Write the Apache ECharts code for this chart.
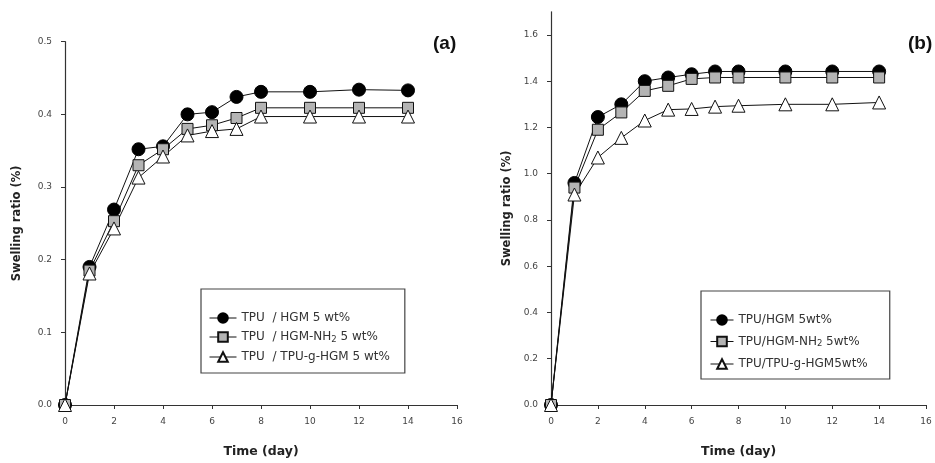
<!DOCTYPE html>
<html>
<head>
<meta charset="utf-8">
<script src="https://cdn.jsdelivr.net/npm/echarts@6/dist/echarts.min.js"></script>
<style>html,body{margin:0;padding:0;background:#fff}#c{width:935px;height:463px}</style>
</head>
<body>
<div id="c"></div>
<script>
const days = [0, 1, 2, 3, 4, 5, 6, 7, 8, 10, 12, 14];
// Panel (a)
const aHGM   = [0, 0.190, 0.269, 0.352, 0.356, 0.400, 0.403, 0.424, 0.431, 0.431, 0.434, 0.433];
const aNH2   = [0, 0.185, 0.253, 0.330, 0.352, 0.380, 0.385, 0.395, 0.409, 0.409, 0.409, 0.409];
const aTPUg  = [0, 0.181, 0.243, 0.313, 0.342, 0.371, 0.377, 0.380, 0.397, 0.397, 0.397, 0.397];
// Panel (b)
const bHGM   = [0, 0.96, 1.245, 1.30, 1.40, 1.416, 1.430, 1.442, 1.442, 1.442, 1.442, 1.442];
const bNH2   = [0, 0.94, 1.19, 1.265, 1.358, 1.38, 1.41, 1.416, 1.416, 1.416, 1.416, 1.416];
const bTPUg  = [0, 0.91, 1.07, 1.155, 1.23, 1.277, 1.28, 1.29, 1.294, 1.30, 1.30, 1.308];
const aNames = ['TPU  / HGM 5 wt%', 'TPU  / HGM-NH2 5 wt%', 'TPU  / TPU-g-HGM 5 wt%'];
const bNames = ['TPU/HGM 5wt%', 'TPU/HGM-NH2 5wt%', 'TPU/TPU-g-HGM5wt%'];

const font = 'DejaVu Sans, Liberation Sans, sans-serif';
const axisCol = '#333';
const pairs = arr => days.map((d, i) => [d, arr[i]]);

function mk(name, arr, kind, xi) {
  const st = {
    circle: { symbol: 'circle', size: 13, color: '#000', border: '#000' },
    square: { symbol: 'rect', size: 11, color: '#b4b4b4', border: '#111' },
    tri:    { symbol: 'triangle', size: 13, color: '#fff', border: '#111' }
  }[kind];
  return {
    type: 'line', name, xAxisIndex: xi, yAxisIndex: xi, data: pairs(arr),
    symbol: st.symbol, symbolSize: st.size,
    lineStyle: { color: '#111', width: 1 },
    itemStyle: { color: st.color, borderColor: st.border, borderWidth: 1 },
    emphasis: { disabled: true }, animation: false
  };
}

function xAx(gi) {
  return {
    type: 'value', gridIndex: gi, min: 0, max: 16, interval: 2,
    name: 'Time (day)', nameLocation: 'middle', nameGap: 40,
    nameTextStyle: { fontFamily: font, fontWeight: 'bold', fontSize: 12.5, color: '#222' },
    axisLine: { lineStyle: { color: axisCol, width: 1.2 } },
    axisTick: { inside: false, length: 4, lineStyle: { color: axisCol } },
    axisLabel: { fontFamily: font, fontSize: 9, color: '#444', margin: 12 },
    splitLine: { show: false }
  };
}
function yAx(gi, max, interval, gap) {
  return {
    type: 'value', gridIndex: gi, min: 0, max, interval,
    name: 'Swelling ratio (%)', nameLocation: 'middle', nameGap: gap,
    nameTextStyle: { fontFamily: font, fontWeight: 'bold', fontSize: 11.5, color: '#222' },
    axisLine: { show: true, lineStyle: { color: axisCol, width: 1.2 } },
    axisTick: { show: true, inside: false, length: 4, lineStyle: { color: axisCol } },
    axisLabel: { fontFamily: font, fontSize: 9, color: '#444', margin: 13, showMaxLabel: max === 0.5,
      formatter: v => (Math.abs(v / interval - Math.round(v / interval)) < 1e-6 ? v.toFixed(1) : '') },
    splitLine: { show: false }
  };
}
const subFmt = n => n.replace('NH2', 'NH{sub|2}');
const legRich = { sub: { fontSize: 8.5, fontFamily: font, color: '#333', verticalAlign: 'bottom', padding: [5, 0, 0, 0] } };

const chart = echarts.init(document.getElementById('c'), null, { renderer: 'canvas' });
chart.setOption({
  animation: false,
  backgroundColor: '#fff',
  grid: [
    { left: 65, right: 478, top: 41.7, bottom: 52.3 },
    { left: 551, right: 9, top: 11.8, bottom: 57 }
  ],
  xAxis: [xAx(0), xAx(1)],
  yAxis: [yAx(0, 0.5, 0.1, 42), yAx(1, 1.7, 0.2, 38)],
  title: [
    { text: '(a)', left: 428, top: 29, textStyle: { fontFamily: 'Liberation Sans, sans-serif', fontWeight: 'bold', fontSize: 19, color: '#111' } },
    { text: '(b)', left: 903, top: 29, textStyle: { fontFamily: 'Liberation Sans, sans-serif', fontWeight: 'bold', fontSize: 19, color: '#111' } }
  ],
  legend: [
    { data: aNames, orient: 'vertical', left: 201, top: 289, itemWidth: 27, itemHeight: 12, itemGap: 7,
      padding: [23, 15, 10, 8], borderColor: '#444', borderWidth: 1.2, selectedMode: false,
      lineStyle: { width: 1, color: '#111' },
      formatter: subFmt,
      textStyle: { fontFamily: font, fontSize: 12, color: '#333', rich: legRich } },
    { data: bNames, orient: 'vertical', left: 701, top: 291, itemWidth: 23, itemHeight: 12, itemGap: 9.5,
      padding: [23, 22, 9, 9], borderColor: '#444', borderWidth: 1.2, selectedMode: false,
      lineStyle: { width: 1, color: '#111' },
      formatter: subFmt,
      textStyle: { fontFamily: font, fontSize: 12, color: '#333', rich: legRich } }
  ],
  series: [
    mk(aNames[0], aHGM, 'circle', 0), mk(aNames[1], aNH2, 'square', 0), mk(aNames[2], aTPUg, 'tri', 0),
    mk(bNames[0], bHGM, 'circle', 1), mk(bNames[1], bNH2, 'square', 1), mk(bNames[2], bTPUg, 'tri', 1)
  ]
});
</script>
</body>
</html>
